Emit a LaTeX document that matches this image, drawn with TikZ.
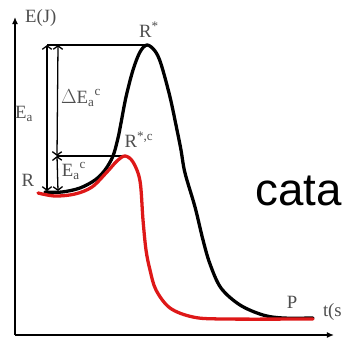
\documentclass[tikz,border=0pt]{standalone}
\usepackage{fontspec}
\setmainfont{Liberation Serif}
\newfontfamily\bigsans{Liberation Sans}
\usetikzlibrary{arrows.meta}
\definecolor{redpath}{RGB}{222,24,24}
\definecolor{labelgray}{RGB}{78,78,78}

\begin{document}
\begin{tikzpicture}[
      x=0.03cm, y=-0.03cm,
      axis/.style={line width=1.1pt, -{Latex[length=6pt,width=5pt]}},
      level/.style={line width=1.1pt},
      gap/.style={line width=1.1pt,
        {Straight Barb[length=3pt,width=8pt]}-{Straight Barb[length=3pt,width=8pt]}},
      curve/.style={line width=2.8pt, line cap=round, line join=round},
      lbl/.style={text=labelgray, font=\fontsize{16}{19}\selectfont, inner sep=0pt},
  ]
      \useasboundingbox (0,0) rectangle (342,337);

      % Axes
      \coordinate (origin) at (15,335);
      \coordinate (ytip) at (15,17);
      \coordinate (xtip) at (334,335);
      \draw[axis] (origin) -- (ytip);
      \draw[axis] (origin) -- (xtip);

      % Energy levels
      \coordinate (peak) at (147,45);
      \coordinate (peakc) at (125,156);
      \coordinate (topleft) at (47,45);
      \coordinate (midleft) at (57,156);
      \coordinate (lowa) at (47,191);
      \coordinate (lowc) at (58,191);
      \coordinate (topc) at (58,45);
      \draw[level] (topleft) -- (peak);
      \draw[level] (midleft) -- (peakc);

      % Barrier heights
      \draw[gap] (topleft) -- (lowa);
      \draw[gap] (topc) -- (midleft);
      \draw[gap] (midleft) -- (lowc);

      % Reaction paths
      \draw[curve, black] plot[smooth, tension=0.55] coordinates {
        (45,192) (62,192) (80,188) (95,180) (105,170) (113,156) (118,138)
        (121,123) (126,97) (133,70) (140,52) (147,45) (155,51) (161,64)
        (170,97) (177,130) (181,150) (185,173) (195,207) (203,240)
        (210,264) (221,288) (240,305) (263,315) (283,318) (313,318)};
      \draw[curve, redpath] plot[smooth, tension=0.55] coordinates {
        (38,193) (55,196) (75,194) (92,187) (107,172) (117,161) (125,156)
        (133,162) (140,181) (143,220) (146,250) (150,270) (156,290)
        (170,308) (193,317) (223,319) (313,319)};

      % Labels
      \node[lbl, anchor=west] (elabel) at (25,18) {E(J)};
      \node[lbl] (rstar) at (149,30) {R\textsuperscript{*}};
      \node[lbl] (ealabel) at (24,114) {E\textsubscript{a}};
      \node[lbl] (dlabel) at (81,98) {$\Delta$E\textsubscript{a}\textsuperscript{c}};
      \node[lbl] (rlabel) at (28,180) {R};
      \node[lbl] (eclabel) at (74,171) {E\textsubscript{a}\textsuperscript{c}};
      \node[lbl] (rstarc) at (139,140) {R\textsuperscript{*,c}};
      \node[lbl] (plabel) at (292,302) {P};
      \node[lbl, anchor=east] (tlabel) at (342,312) {t(s};
      \node[anchor=base east, inner sep=0pt, font=\bigsans\fontsize{39}{45}\selectfont]
        (catalabel) at (342,205) {cata};

  \end{tikzpicture}
\end{document}
